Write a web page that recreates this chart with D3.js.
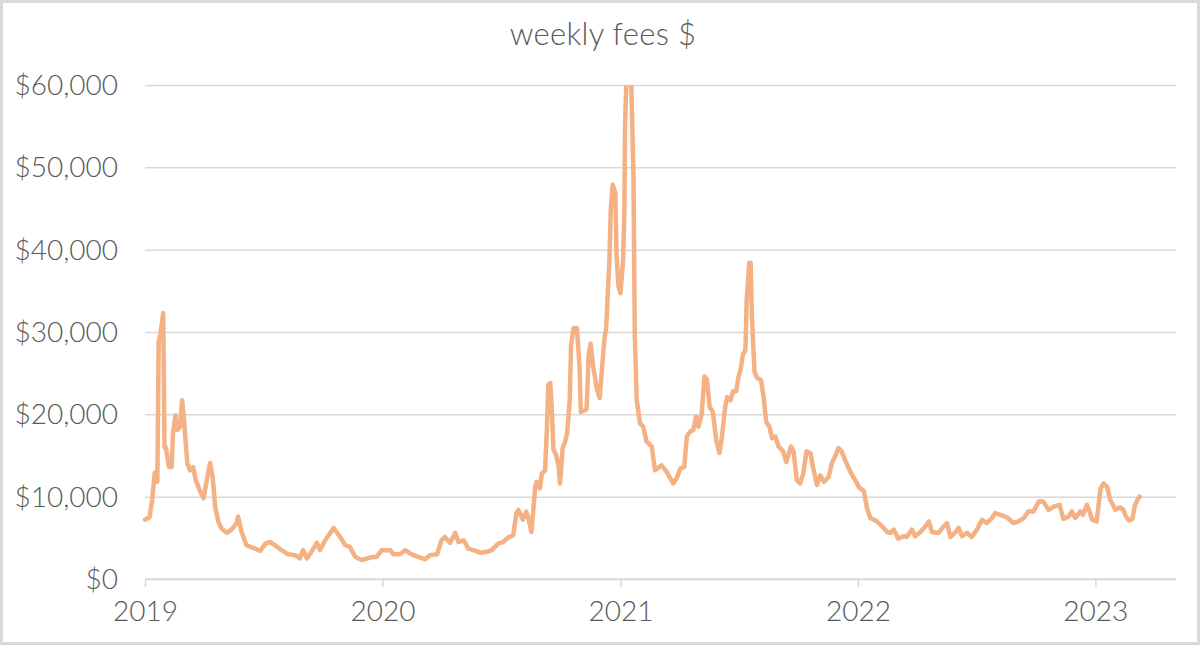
<!DOCTYPE html>
<html>
<head>
<meta charset="utf-8">
<script src="https://cdn.jsdelivr.net/npm/d3@7"></script>
<style>
  html, body { margin: 0; padding: 0; background: #fff; }
  svg { display: block; }
  text { font-family: Lato, "Open Sans", sans-serif; font-weight: 300; fill: #595959; }
</style>
</head>
<body>
<svg id="chart" width="1200" height="645"></svg>
<script>
const title = "weekly fees $";
const yTicks = [0, 10000, 20000, 30000, 40000, 50000, 60000];
const xTickYears = ["2019-01-01", "2020-01-01", "2021-01-01", "2022-01-01", "2023-01-01"];

const dates = [
  "2019-01-01","2019-01-08","2019-01-12","2019-01-16","2019-01-19","2019-01-20","2019-01-22","2019-01-25","2019-01-29","2019-01-31",
  "2019-02-02","2019-02-07","2019-02-11","2019-02-13","2019-02-17","2019-02-20","2019-02-24","2019-02-27","2019-03-02","2019-03-07",
  "2019-03-11","2019-03-16","2019-03-20","2019-03-27","2019-04-01","2019-04-06","2019-04-11","2019-04-15","2019-04-19","2019-04-24",
  "2019-04-29","2019-05-07","2019-05-14","2019-05-22","2019-05-24","2019-05-30","2019-06-06","2019-06-19","2019-06-27","2019-07-05",
  "2019-07-12","2019-07-20","2019-07-28","2019-08-09","2019-08-20","2019-08-27","2019-09-01","2019-09-07","2019-09-14","2019-09-22",
  "2019-09-27","2019-10-05","2019-10-18","2019-10-28","2019-11-05","2019-11-12","2019-11-20","2019-11-30","2019-12-13","2019-12-23",
  "2019-12-31","2020-01-13","2020-01-18","2020-01-28","2020-02-05","2020-02-15","2020-02-28","2020-03-07","2020-03-14","2020-03-25",
  "2020-04-01","2020-04-06","2020-04-14","2020-04-22","2020-04-27","2020-05-05","2020-05-12","2020-05-20","2020-05-30","2020-06-10",
  "2020-06-17","2020-06-27","2020-07-05","2020-07-13","2020-07-20","2020-07-25","2020-07-28","2020-08-04","2020-08-09","2020-08-13",
  "2020-08-17","2020-08-23","2020-08-25","2020-08-30","2020-09-02","2020-09-07","2020-09-10","2020-09-12","2020-09-15","2020-09-17",
  "2020-09-20","2020-09-24","2020-09-28","2020-09-30","2020-10-04","2020-10-08","2020-10-11","2020-10-15","2020-10-17","2020-10-21",
  "2020-10-26","2020-10-30","2020-11-01","2020-11-08","2020-11-10","2020-11-13","2020-11-16","2020-11-20","2020-11-26","2020-11-30",
  "2020-12-03","2020-12-07","2020-12-10","2020-12-12","2020-12-15","2020-12-17","2020-12-20","2020-12-24","2020-12-26","2020-12-29",
  "2021-01-01","2021-01-05","2021-01-07","2021-01-08","2021-01-11","2021-01-14","2021-01-17","2021-01-21","2021-01-22","2021-01-23",
  "2021-01-26","2021-01-31","2021-02-05","2021-02-10","2021-02-18","2021-02-23","2021-03-05","2021-03-13","2021-03-23","2021-03-28",
  "2021-04-03","2021-04-09","2021-04-13","2021-04-18","2021-04-23","2021-04-27","2021-05-01","2021-05-06","2021-05-10","2021-05-14",
  "2021-05-18","2021-05-23","2021-05-28","2021-06-02","2021-06-06","2021-06-11","2021-06-14","2021-06-19","2021-06-23","2021-06-28",
  "2021-07-01","2021-07-05","2021-07-08","2021-07-12","2021-07-14","2021-07-18","2021-07-20","2021-07-22","2021-07-26","2021-07-30",
  "2021-08-05","2021-08-09","2021-08-13","2021-08-18","2021-08-22","2021-08-27","2021-09-01","2021-09-08","2021-09-13","2021-09-20",
  "2021-09-24","2021-09-29","2021-10-04","2021-10-09","2021-10-14","2021-10-20","2021-10-24","2021-10-30","2021-11-04","2021-11-10",
  "2021-11-17","2021-11-22","2021-11-27","2021-12-02","2021-12-07","2021-12-12","2021-12-17","2021-12-23","2021-12-28","2022-01-03",
  "2022-01-10","2022-01-15","2022-01-20","2022-01-30","2022-02-07","2022-02-15","2022-02-20","2022-02-25","2022-03-04","2022-03-12",
  "2022-03-17","2022-03-25","2022-03-30","2022-04-07","2022-04-15","2022-04-20","2022-04-25","2022-05-05","2022-05-13","2022-05-18",
  "2022-05-23","2022-05-31","2022-06-05","2022-06-10","2022-06-18","2022-06-25","2022-07-03","2022-07-11","2022-07-18","2022-07-26",
  "2022-07-31","2022-08-08","2022-08-18","2022-08-28","2022-09-05","2022-09-13","2022-09-20","2022-09-28","2022-10-06","2022-10-13",
  "2022-10-21","2022-10-29","2022-11-07","2022-11-13","2022-11-21","2022-11-26","2022-12-01","2022-12-09","2022-12-13","2022-12-19",
  "2022-12-23","2022-12-27","2023-01-03","2023-01-09","2023-01-14","2023-01-19","2023-01-24","2023-02-01","2023-02-08","2023-02-13",
  "2023-02-17","2023-02-22","2023-02-27","2023-03-03","2023-03-08","2023-03-10"
];

const fees = [
  7200,7500,9600,12900,13000,11800,28800,29900,32300,16000,
  16000,13600,13600,17700,19900,18100,18500,21700,19300,14100,
  13200,13600,12000,10600,9800,12000,14100,12400,8700,6900,
  6100,5600,6000,6800,7600,5600,4100,3700,3400,4300,
  4500,4100,3600,3000,2900,2500,3500,2500,3300,4400,
  3500,4700,6200,5100,4100,3900,2700,2300,2600,2700,
  3500,3500,3000,3000,3500,3000,2600,2400,2900,3000,
  4700,5100,4400,5600,4500,4700,3700,3500,3200,3300,
  3500,4300,4500,5100,5300,8000,8400,7200,8200,7200,
  5700,11200,11800,11000,12800,13200,18500,23600,23800,21300,
  15700,15100,13600,11600,15900,16700,17700,21800,28400,30500,
  30500,25800,20300,20500,20700,27200,28600,25800,23000,22000,
  25000,29000,30500,33900,38800,44800,47900,46900,39200,35500,
  34700,38800,44800,55000,63000,66000,62000,48900,38800,29400,
  21700,18900,18500,16700,16100,13200,13800,13000,11600,12200,
  13400,13600,17300,17900,18100,19700,18500,20100,24600,24200,
  20900,20300,16900,15300,17300,20900,22100,21700,22800,22800,
  24400,25600,27200,27800,33900,38400,38400,31900,25200,24400,
  24200,22100,19100,18500,17100,17300,16100,15500,14200,16100,
  15500,12000,11600,12800,15500,15300,13600,11400,12600,11800,
  12400,14100,14900,15900,15500,14500,13600,12600,12000,11100,
  10700,8600,7400,7000,6400,5700,5600,6000,4900,5200,
  5100,6000,5200,5700,6400,7000,5700,5600,6400,6800,
  5100,5700,6200,5200,5600,5100,6000,7200,6800,7400,
  8000,7800,7500,6800,7000,7400,8200,8200,9400,9400,
  8400,8800,9000,7300,7600,8200,7400,8200,7800,9000,
  8200,7200,7000,11000,11600,11200,9600,8400,8700,8400,
  7600,7100,7300,9000,9800,10000
];

const W = 1200, H = 645;
const margin = { left: 145, right: 1176, top: 85, bottom: 579 };
const parse = d3.utcParse("%Y-%m-%d");
const data = dates.map((d, i) => ({ date: parse(d), value: fees[i] }));

const svg = d3.select("#chart");

// outer border
svg.append("rect")
  .attr("x", 1.5).attr("y", 1.5)
  .attr("width", W - 3).attr("height", H - 3)
  .attr("fill", "#fff")
  .attr("stroke", "#d9d9d9")
  .attr("stroke-width", 3);

const x = d3.scaleUtc()
  .domain([parse("2019-01-01"), parse("2023-05-05")])
  .range([margin.left, margin.right]);

const y = d3.scaleLinear()
  .domain([0, 60000])
  .range([margin.bottom, margin.top]);

// title
svg.append("text")
  .attr("x", 603).attr("y", 45)
  .attr("text-anchor", "middle")
  .style("font-size", "31px")
  .style("letter-spacing", "0.3px")
  .text(title);

// y axis with gridlines
const yAxis = d3.axisLeft(y)
  .tickValues(yTicks)
  .tickSize(-(margin.right - margin.left))
  .tickPadding(27)
  .tickFormat(d => "$" + d3.format(",")(d));

const gy = svg.append("g")
  .attr("transform", `translate(${margin.left},0)`)
  .call(yAxis);
gy.select(".domain").remove();
gy.selectAll(".tick line").attr("stroke", "#d9d9d9").attr("stroke-width", 1.5);
gy.selectAll(".tick text")
  .style("font-size", "28px")
  .style("font-family", "Lato, 'Open Sans', sans-serif")
  .attr("fill", "#595959")
  .attr("dy", "0.34em");

// x axis
const xAxis = d3.axisBottom(x)
  .tickValues(xTickYears.map(parse))
  .tickSize(8)
  .tickPadding(14)
  .tickFormat(d3.utcFormat("%Y"));

const gx = svg.append("g")
  .attr("transform", `translate(0,${margin.bottom})`)
  .call(xAxis);
gx.select(".domain").attr("stroke", "#d9d9d9").attr("stroke-width", 1.5)
  .attr("d", `M${margin.left},0H${margin.right}`);
gx.selectAll(".tick line").attr("stroke", "#d9d9d9").attr("stroke-width", 1.5);
gx.selectAll(".tick text")
  .style("font-size", "28px")
  .style("font-family", "Lato, 'Open Sans', sans-serif")
  .attr("fill", "#595959")
  .attr("dy", "0.72em");

// clip
svg.append("clipPath").attr("id", "plotClip")
  .append("rect")
  .attr("x", margin.left - 5).attr("y", margin.top)
  .attr("width", margin.right - margin.left + 10)
  .attr("height", margin.bottom - margin.top + 10);

const line = d3.line()
  .x(d => x(d.date))
  .y(d => y(d.value));

svg.append("path")
  .datum(data)
  .attr("clip-path", "url(#plotClip)")
  .attr("fill", "none")
  .attr("stroke", "#f4b183")
  .attr("stroke-width", 4.5)
  .attr("stroke-linejoin", "round")
  .attr("stroke-linecap", "round")
  .attr("d", line);
</script>
</body>
</html>
